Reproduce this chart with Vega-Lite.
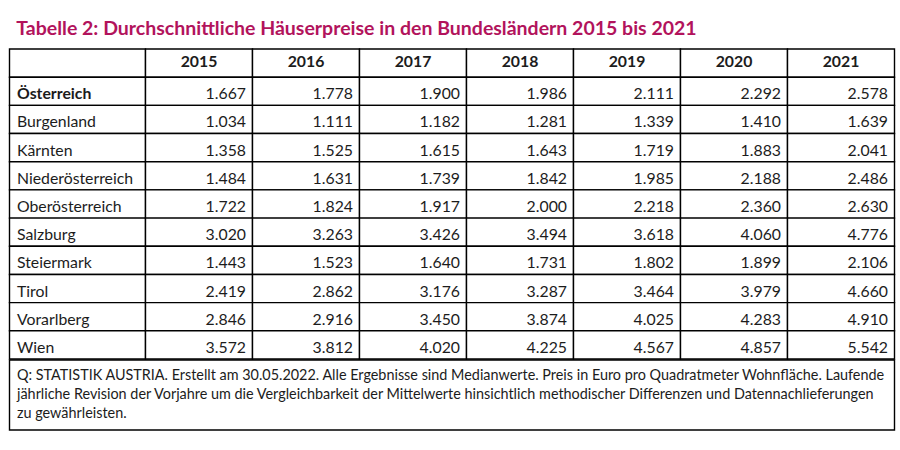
{
  "$schema": "https://vega.github.io/schema/vega-lite/v6.json",
  "padding": {"left": 8.5, "top": 18, "right": 0, "bottom": 0},
  "background": "white",
  "title": {
    "text": "Tabelle 2: Durchschnittliche Häuserpreise in den Bundesländern 2015 bis 2021",
    "anchor": "start",
    "font": "Lato",
    "fontSize": 19.5,
    "fontWeight": "bold",
    "color": "#b2135c",
    "dx": 7.5,
    "offset": 9
  },
  "config": {
    "view": {"stroke": null},
    "locale": {"number": {"decimal": ",", "thousands": ".", "grouping": [3], "currency": ["", " €"]}},
    "text": {"font": "Lato", "fontSize": 15.8, "color": "#1c1c1c"}
  },
  "datasets": {
    "prices": [
      {"region": "Österreich", "year": "2015", "price": 1667},
      {"region": "Österreich", "year": "2016", "price": 1778},
      {"region": "Österreich", "year": "2017", "price": 1900},
      {"region": "Österreich", "year": "2018", "price": 1986},
      {"region": "Österreich", "year": "2019", "price": 2111},
      {"region": "Österreich", "year": "2020", "price": 2292},
      {"region": "Österreich", "year": "2021", "price": 2578},
      {"region": "Burgenland", "year": "2015", "price": 1034},
      {"region": "Burgenland", "year": "2016", "price": 1111},
      {"region": "Burgenland", "year": "2017", "price": 1182},
      {"region": "Burgenland", "year": "2018", "price": 1281},
      {"region": "Burgenland", "year": "2019", "price": 1339},
      {"region": "Burgenland", "year": "2020", "price": 1410},
      {"region": "Burgenland", "year": "2021", "price": 1639},
      {"region": "Kärnten", "year": "2015", "price": 1358},
      {"region": "Kärnten", "year": "2016", "price": 1525},
      {"region": "Kärnten", "year": "2017", "price": 1615},
      {"region": "Kärnten", "year": "2018", "price": 1643},
      {"region": "Kärnten", "year": "2019", "price": 1719},
      {"region": "Kärnten", "year": "2020", "price": 1883},
      {"region": "Kärnten", "year": "2021", "price": 2041},
      {"region": "Niederösterreich", "year": "2015", "price": 1484},
      {"region": "Niederösterreich", "year": "2016", "price": 1631},
      {"region": "Niederösterreich", "year": "2017", "price": 1739},
      {"region": "Niederösterreich", "year": "2018", "price": 1842},
      {"region": "Niederösterreich", "year": "2019", "price": 1985},
      {"region": "Niederösterreich", "year": "2020", "price": 2188},
      {"region": "Niederösterreich", "year": "2021", "price": 2486},
      {"region": "Oberösterreich", "year": "2015", "price": 1722},
      {"region": "Oberösterreich", "year": "2016", "price": 1824},
      {"region": "Oberösterreich", "year": "2017", "price": 1917},
      {"region": "Oberösterreich", "year": "2018", "price": 2000},
      {"region": "Oberösterreich", "year": "2019", "price": 2218},
      {"region": "Oberösterreich", "year": "2020", "price": 2360},
      {"region": "Oberösterreich", "year": "2021", "price": 2630},
      {"region": "Salzburg", "year": "2015", "price": 3020},
      {"region": "Salzburg", "year": "2016", "price": 3263},
      {"region": "Salzburg", "year": "2017", "price": 3426},
      {"region": "Salzburg", "year": "2018", "price": 3494},
      {"region": "Salzburg", "year": "2019", "price": 3618},
      {"region": "Salzburg", "year": "2020", "price": 4060},
      {"region": "Salzburg", "year": "2021", "price": 4776},
      {"region": "Steiermark", "year": "2015", "price": 1443},
      {"region": "Steiermark", "year": "2016", "price": 1523},
      {"region": "Steiermark", "year": "2017", "price": 1640},
      {"region": "Steiermark", "year": "2018", "price": 1731},
      {"region": "Steiermark", "year": "2019", "price": 1802},
      {"region": "Steiermark", "year": "2020", "price": 1899},
      {"region": "Steiermark", "year": "2021", "price": 2106},
      {"region": "Tirol", "year": "2015", "price": 2419},
      {"region": "Tirol", "year": "2016", "price": 2862},
      {"region": "Tirol", "year": "2017", "price": 3176},
      {"region": "Tirol", "year": "2018", "price": 3287},
      {"region": "Tirol", "year": "2019", "price": 3464},
      {"region": "Tirol", "year": "2020", "price": 3979},
      {"region": "Tirol", "year": "2021", "price": 4660},
      {"region": "Vorarlberg", "year": "2015", "price": 2846},
      {"region": "Vorarlberg", "year": "2016", "price": 2916},
      {"region": "Vorarlberg", "year": "2017", "price": 3450},
      {"region": "Vorarlberg", "year": "2018", "price": 3874},
      {"region": "Vorarlberg", "year": "2019", "price": 4025},
      {"region": "Vorarlberg", "year": "2020", "price": 4283},
      {"region": "Vorarlberg", "year": "2021", "price": 4910},
      {"region": "Wien", "year": "2015", "price": 3572},
      {"region": "Wien", "year": "2016", "price": 3812},
      {"region": "Wien", "year": "2017", "price": 4020},
      {"region": "Wien", "year": "2018", "price": 4225},
      {"region": "Wien", "year": "2019", "price": 4567},
      {"region": "Wien", "year": "2020", "price": 4857},
      {"region": "Wien", "year": "2021", "price": 5542}
    ],
    "notes": [
      {"line": 1, "text": "Q: STATISTIK AUSTRIA. Erstellt am 30.05.2022. Alle Ergebnisse sind Medianwerte. Preis in Euro pro Quadratmeter Wohnfläche. Laufende"},
      {"line": 2, "text": "jährliche Revision der Vorjahre um die Vergleichbarkeit der Mittelwerte hinsichtlich methodischer Differenzen und Datennachlieferungen"},
      {"line": 3, "text": "zu gewährleisten."}
    ]
  },
  "vconcat": [
    {
      "hconcat": [
        {
          "width": 136,
          "height": 310,
          "data": {"name": "prices"},
          "layer": [
            {
              "transform": [{"aggregate": [{"op": "count", "as": "n"}]}],
              "mark": {"type": "rect", "fill": "white", "stroke": "black", "strokeWidth": 1.4},
              "encoding": {
                "y": {"datum": "Jahr", "type": "nominal", "axis": null,
                  "scale": {"domain": ["Jahr", "Österreich", "Burgenland", "Kärnten", "Niederösterreich", "Oberösterreich", "Salzburg", "Steiermark", "Tirol", "Vorarlberg", "Wien"], "paddingInner": 0, "paddingOuter": 0}}
              }
            },
            {
              "transform": [{"aggregate": [{"op": "count", "as": "n"}], "groupby": ["region"]}],
              "mark": {"type": "rect", "fill": "white", "stroke": "black", "strokeWidth": 1.4},
              "encoding": {"y": {"field": "region", "type": "nominal", "axis": null}}
            },
            {
              "transform": [{"aggregate": [{"op": "count", "as": "n"}], "groupby": ["region"]}, {"filter": "datum.region !== 'Österreich'"}],
              "mark": {"type": "text", "align": "left", "baseline": "alphabetic", "dx": -60.5, "dy": 8},
              "encoding": {"y": {"field": "region", "type": "nominal", "axis": null}, "text": {"field": "region"}}
            },
            {
              "transform": [{"aggregate": [{"op": "count", "as": "n"}], "groupby": ["region"]}, {"filter": "datum.region === 'Österreich'"}],
              "mark": {"type": "text", "align": "left", "baseline": "alphabetic", "dx": -60.5, "dy": 8, "fontWeight": "bold"},
              "encoding": {"y": {"field": "region", "type": "nominal", "axis": null}, "text": {"field": "region"}}
            }
          ]
        },
        {
          "width": 749,
          "height": 310,
          "data": {"name": "prices"},
          "layer": [
            {
              "transform": [{"aggregate": [{"op": "count", "as": "n"}], "groupby": ["year"]}],
              "mark": {"type": "rect", "fill": "white", "stroke": "black", "strokeWidth": 1.4},
              "encoding": {
                "x": {"field": "year", "type": "ordinal", "axis": null, "scale": {"paddingInner": 0, "paddingOuter": 0}},
                "y": {"datum": "Jahr", "type": "nominal", "axis": null,
                  "scale": {"domain": ["Jahr", "Österreich", "Burgenland", "Kärnten", "Niederösterreich", "Oberösterreich", "Salzburg", "Steiermark", "Tirol", "Vorarlberg", "Wien"], "paddingInner": 0, "paddingOuter": 0}}
              }
            },
            {
              "transform": [{"aggregate": [{"op": "count", "as": "n"}], "groupby": ["year"]}],
              "mark": {"type": "text", "align": "center", "baseline": "alphabetic", "dy": 4, "fontWeight": "bold"},
              "encoding": {
                "x": {"field": "year", "type": "ordinal", "axis": null},
                "y": {"datum": "Jahr", "type": "nominal", "axis": null},
                "text": {"field": "year"}
              }
            },
            {
              "mark": {"type": "rect", "fill": "white", "stroke": "black", "strokeWidth": 1.4},
              "encoding": {
                "x": {"field": "year", "type": "ordinal", "axis": null},
                "y": {"field": "region", "type": "nominal", "axis": null}
              }
            },
            {
              "mark": {"type": "text", "align": "right", "baseline": "alphabetic", "dx": -6.5, "dy": 8},
              "encoding": {
                "x": {"field": "year", "type": "ordinal", "axis": null, "bandPosition": 1},
                "y": {"field": "region", "type": "nominal", "axis": null},
                "text": {"field": "price", "type": "quantitative", "format": ",d"}
              }
            }
          ]
        }
      ],
      "spacing": 0,
      "bounds": "flush"
    },
    {
      "width": 885,
      "height": 70,
      "data": {"name": "notes"},
      "layer": [
        {
          "transform": [{"aggregate": [{"op": "count", "as": "n"}]}],
          "mark": {"type": "rect", "fill": "white", "stroke": "black", "strokeWidth": 1.4},
          "encoding": {}
        },
        {
          "mark": {"type": "text", "align": "left", "baseline": "middle", "dx": -435, "fontSize": 14.4},
          "encoding": {
            "y": {"field": "line", "type": "ordinal", "axis": null, "scale": {"type": "point", "padding": 0.8}},
            "text": {"field": "text"}
          }
        }
      ]
    }
  ],
  "spacing": -1.4
}
